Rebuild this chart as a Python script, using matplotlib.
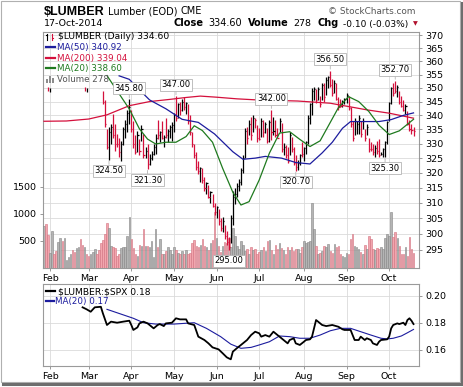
import matplotlib.pyplot as plt
from matplotlib.lines import Line2D
from matplotlib.patches import Rectangle
from matplotlib.ticker import NullLocator

W, H = 464, 387

# x axis: trading-day index, 0 = 29-Jan-2014 ... 182 = 17-Oct-2014
months = ['Feb', 'Mar', 'Apr', 'May', 'Jun', 'Jul', 'Aug', 'Sep', 'Oct']
month_idx = [3, 22, 43, 64, 85, 106, 128, 149, 170]

# daily price bars (start at index 29)
price_start = 29
price_hi = [349, 345.5, 335, 336, 337, 340.5, 337, 333.5, 332, 331,
            336, 338.5, 342, 345.8, 342, 338, 333, 334.5, 331.5, 336.5,
            333.5, 328.8, 330, 326.5, 327.6, 329.9, 333.4, 338.5, 334.6, 338,
            333, 339, 335, 336.5, 337.5, 341, 347, 344.5, 345, 346,
            346.5, 345, 344, 340, 334, 330, 327, 324, 322, 321.5,
            318.5, 317, 316, 314, 313, 310, 309, 308, 305, 305.5,
            303, 301, 299, 306, 314, 315, 316.5, 318, 321.5, 326,
            335.5, 336, 338.4, 339.6, 340.2, 339, 336.6, 335.4, 339, 338.4,
            337.8, 335.4, 338.4, 342, 339.6, 338.4, 335.4, 339, 337.2, 330.2,
            329.6, 329, 334, 332.5, 329, 326, 324.5, 326.5, 330.5, 329,
            331, 340, 344.5, 350, 350.5, 349.5, 350.5, 347, 352, 352,
            354, 354.5, 356.5, 353.5, 353, 352, 346.5, 346, 345.5, 346.2,
            348, 347, 343, 338, 339, 338, 340, 338, 339, 335,
            337, 332, 330.5, 330, 329.5, 331, 331.5, 327, 328.5, 331,
            338, 345, 350.5, 352, 352.7, 351, 349, 347, 345.5, 344,
            341.5, 338.5, 337, 336]
price_lo = [344, 336, 328, 324.5, 330, 332, 327.5, 329, 325.5, 324,
            329.5, 332, 334, 337, 334, 328.5, 326.5, 327, 326, 331,
            325, 325, 321.3, 322.5, 324.5, 326, 326.5, 331.6, 330.5, 331.6,
            329, 332, 330.5, 332, 331, 334, 338, 339, 340, 341.5,
            342, 340.5, 337, 333, 329, 325, 321, 319.5, 317, 316.5,
            314, 313, 311.5, 310, 308.5, 306, 305, 303, 301, 300.5,
            298.5, 296.5, 295, 297, 303, 309.5, 312, 314, 316, 320,
            325, 330, 333, 331.3, 334.2, 335.5, 330.7, 331.3, 332.5, 332.5,
            333.7, 330.2, 330.7, 331.3, 333.1, 332.5, 331.9, 334.2, 327.2, 326.1,
            325, 323.3, 326, 327.2, 322.5, 320.7, 321, 322.5, 325.5, 324,
            326.5, 330, 337, 340, 345.6, 344.5, 345.6, 343, 345.6, 345,
            347.5, 350, 350.5, 347, 348, 345.5, 342, 343, 343, 344,
            344.5, 342, 336, 331, 333, 333.5, 333.5, 332.5, 335, 331,
            333, 327, 327.5, 326, 325.5, 326.5, 325.5, 326, 325.5, 325.3,
            330, 338, 344, 347, 348, 346.5, 344, 343, 341.5, 340.5,
            336.5, 334.5, 333.5, 332.8]
price_cl = [345, 337, 329, 334, 336, 333, 330, 330, 327, 330,
            335, 337, 341, 343, 335, 330, 327, 333, 327.5, 335,
            326, 327.5, 323, 325, 326.5, 329, 332, 333, 334, 332,
            332.5, 333, 334.5, 336, 336.5, 340, 339, 344, 342, 345,
            343, 344.5, 338, 334, 330, 326, 322, 320.5, 321.5, 317.5,
            315, 316.5, 312, 313.5, 309, 307, 308.5, 304, 302, 304,
            299.5, 297.5, 296, 305, 312, 313, 315.5, 317, 321, 325,
            334.5, 332, 337, 333, 339, 338.5, 332, 331.5, 338, 334,
            337, 331, 337.5, 334, 334.5, 333, 332, 338, 328, 329,
            326, 324, 333, 328, 323.5, 322, 323.5, 326, 326.5, 328.5,
            330.5, 339, 344, 349, 349.5, 345.5, 349.5, 344, 351, 346.5,
            353, 354, 351, 348, 352, 346, 343, 343.5, 345, 345.8,
            347.5, 342.5, 337, 332, 338, 337, 339, 333.5, 338, 332,
            336, 328, 328, 327, 328.5, 327.5, 326, 326.5, 328, 330.5,
            337.5, 344.5, 350, 348, 349, 350.5, 345, 343.5, 342, 343.5,
            337, 335, 334.7, 334.6]
price_col = ('rrrkkrrrrk' 'kkkkrrrkrk' 'rkrkkkkrkr' 'krkkkkrkrk' 'rkrrrrrrkr'
             'rkrkrrkrrk' 'rrrkkkkkkk' 'krkrkrrrkr' 'krkrkrrkrk' 'rrkrrrkkrk'
             'kkkkkrkrkr' 'kkrrkrrrkk' 'krrrkkkrkr' 'krrrkrrkkk' 'kkkrrkrrrk'
             'rrrr')

# isolated early prints
early_idx = [2, 3, 20, 21]
early_hi = [350.5, 350, 350.5, 350]
early_lo = [349, 348.5, 349, 348.5]
early_col = 'rkrk'

# moving averages (read at sample days)
ma50_idx = [37, 42, 47, 52, 60, 68, 76, 84, 93, 98, 104, 109, 117, 124, 131, 137,
            142, 147, 151, 158, 165, 171, 177, 182]
ma50_val = [354.5, 353.2, 349.3, 345.6, 342.4, 338.6, 337.5, 333.4, 327.2, 324.6,
            325.0, 325.6, 325.0, 323.5, 323.0, 326.8, 330.5, 335.4, 337.8, 337.8,
            337.8, 338.5, 340.0, 340.9]
ma200_idx = [0, 11, 22, 31, 42, 52, 62, 70, 77, 85, 95, 105, 115, 125, 141, 159, 170, 182]
ma200_val = [337.9, 338.0, 338.7, 340.2, 343.5, 345.0, 345.8, 346.5, 347.0, 346.6,
             346.0, 345.6, 345.4, 345.2, 344.4, 342.0, 340.8, 339.0]
ma20_idx = [31, 42, 47, 51, 55, 60, 65, 70, 74, 78, 83, 88, 93, 97, 101, 106, 111,
            116, 121, 126, 131, 136, 141, 145, 150, 155, 160, 165, 170, 175, 182]
ma20_val = [354.6, 342.3, 335.2, 331.6, 329.9, 330.5, 330.5, 332.5, 336.3, 334.6,
            330.5, 321.5, 313.5, 309.3, 310.4, 317.6, 326.7, 333.7, 334.2, 331.5,
            329.0, 331.0, 337.5, 342.8, 346.8, 345.0, 341.4, 336.5, 333.2, 334.5, 338.6]

# daily volume, index 0..182
volume = [785, 820, 620, 281, 680, 262, 324, 478, 558, 509,
          558, 157, 207, 268, 330, 293, 373, 392, 540, 435,
          392, 268, 219, 250, 293, 355, 268, 330, 466, 527,
          638, 836, 743, 416, 392, 373, 219, 268, 373, 392,
          392, 601, 947, 540, 373, 268, 219, 435, 416, 725,
          404, 416, 392, 509, 207, 725, 392, 540, 250, 268,
          311, 392, 342, 250, 392, 330, 281, 250, 311, 268,
          330, 250, 281, 466, 527, 416, 392, 435, 546, 416,
          392, 342, 466, 527, 1033, 558, 404, 293, 416, 478,
          466, 558, 392, 743, 589, 404, 355, 497, 435, 311,
          355, 262, 392, 342, 355, 262, 293, 342, 392, 311,
          497, 527, 342, 268, 435, 355, 466, 373, 330, 250,
          392, 342, 392, 311, 355, 355, 281, 392, 497, 466,
          478, 497, 1206, 725, 416, 268, 281, 311, 416, 392,
          453, 311, 281, 447, 392, 416, 268, 231, 207, 281,
          250, 540, 638, 416, 392, 355, 293, 250, 435, 355,
          589, 540, 355, 330, 373, 355, 385, 355, 558, 638,
          601, 1033, 576, 663, 558, 404, 268, 268, 392, 219,
          576, 355, 278]
vol_col_early = 'gppggppggpggggppggppgppgggppp'

# annotated highs / lows
label_idx = [32, 42, 51, 65, 91, 112, 124, 141, 168, 173]
label_val = [324.50, 345.80, 321.30, 347.00, 295.00, 342.00, 320.70, 356.50, 325.30, 352.70]
label_side = ['b', 'a', 'b', 'a', 'b', 'a', 'b', 'a', 'b', 'a']

price_ticks = [295, 300, 305, 310, 315, 320, 325, 330, 335, 340, 345, 350, 355, 360, 365, 370]
vol_ticks = [500, 1000, 1500]

# $LUMBER:$SPX ratio panel
ratio_idx = [19, 21, 23, 25, 28, 29, 31, 33, 36, 39, 42, 43, 44, 46, 47, 49, 51, 52,
             54, 56, 57, 59, 60, 63, 65, 67, 70, 71, 74, 76, 79, 81, 83, 86, 88, 90,
             91, 92, 93, 95, 97, 100, 102, 104, 106, 107, 109, 111, 113, 115, 116,
             118, 120, 121, 123, 124, 126, 128, 129, 131, 132, 133, 134, 135, 137,
             139, 142, 145, 147, 148, 151, 152, 153, 155, 156, 158, 159, 161, 162,
             164, 165, 166, 169, 170, 171, 172, 174, 175, 177, 178, 179, 180, 181, 182]
ratio_val = [0.1915, 0.1900, 0.1882, 0.1915, 0.1919, 0.1870, 0.1783, 0.1808, 0.1800,
             0.1808, 0.1815, 0.1783, 0.1746, 0.1765, 0.1795, 0.1808, 0.1795, 0.1783,
             0.1758, 0.1783, 0.1790, 0.1775, 0.1795, 0.1800, 0.1833, 0.1825, 0.1825,
             0.1795, 0.1783, 0.1696, 0.1671, 0.1646, 0.1616, 0.1601, 0.1572, 0.1542,
             0.1534, 0.1527, 0.1584, 0.1610, 0.1634, 0.1671, 0.1708, 0.1733, 0.1721,
             0.1696, 0.1708, 0.1696, 0.1733, 0.1708, 0.1696, 0.1671, 0.1646, 0.1671,
             0.1684, 0.1646, 0.1634, 0.1658, 0.1671, 0.1676, 0.1696, 0.1758, 0.1820,
             0.1808, 0.1783, 0.1775, 0.1783, 0.1770, 0.1751, 0.1746, 0.1746, 0.1708,
             0.1671, 0.1671, 0.1696, 0.1671, 0.1684, 0.1671, 0.1646, 0.1634, 0.1658,
             0.1671, 0.1676, 0.1696, 0.1758, 0.1783, 0.1795, 0.1790, 0.1800, 0.1783,
             0.1820, 0.1833, 0.1815, 0.1790]
rma_idx = [31, 44, 49, 55, 64, 74, 80, 87, 92, 97, 102, 106, 111, 116, 121, 126, 131,
           136, 141, 146, 151, 156, 161, 166, 169, 172, 176, 179, 182]
rma_val = [0.1900, 0.1833, 0.1800, 0.1790, 0.1790, 0.1800, 0.1758, 0.1696, 0.1640,
           0.1609, 0.1616, 0.1634, 0.1658, 0.1701, 0.1696, 0.1684, 0.1684, 0.1708,
           0.1740, 0.1758, 0.1758, 0.1733, 0.1708, 0.1684, 0.1679, 0.1684, 0.1701,
           0.1725, 0.1750]
ratio_ticks = [0.16, 0.18, 0.20]

RED = '#d4103c'
BLACK = '#000000'
NAVY = '#1c1c9e'
GREEN = '#1f7a1f'
GRID = '#dadada'
SPINE = '#9a9a9a'

fig = plt.figure(figsize=(W / 100, H / 100), dpi=100)


def fx(x):
    return x / W


def fy(y):
    return 1 - y / H


def txt(x, y, s, **kw):
    kw.setdefault('va', 'baseline')
    fig.text(fx(x), fy(y), s, **kw)


def seg(x0, y0, x1, y1, **kw):
    fig.add_artist(Line2D([fx(x0), fx(x1)], [fy(y0), fy(y1)], transform=fig.transFigure, **kw))


xlim = (-0.5, 184.7)

# ---- main panel: background grid axis, volume axis, price axis
rect = [fx(43), fy(268), (419 - 43) / W, (268 - 32) / H]
ax_bg = fig.add_axes(rect)
axv = ax_bg.twinx()
axp = ax_bg.twinx()

ax_bg.set_yscale('log')
ax_bg.set_ylim(289.4, 371.3)
ax_bg.set_yticks(price_ticks)
ax_bg.yaxis.set_minor_locator(NullLocator())
ax_bg.set_xlim(*xlim)
ax_bg.set_xticks(month_idx)
ax_bg.set_xticklabels(months)
ax_bg.grid(True, color=GRID, lw=0.6)
ax_bg.tick_params(axis='y', left=False, right=False, labelleft=False, labelright=False)
ax_bg.tick_params(axis='x', length=2.5, width=0.6, color='#888888', labelsize=6.8, pad=2)
for s in ax_bg.spines.values():
    s.set_color(SPINE)
    s.set_linewidth(0.8)

# volume
vcols = list(vol_col_early) + ['p' if c == 'r' else 'g' for c in price_col]
vface = ['#f2a6ae' if c == 'p' else '#b4b4b4' for c in vcols]
vedge = ['#d2707e' if c == 'p' else '#858585' for c in vcols]
axv.bar(range(len(volume)), volume, width=0.75, color=vface, edgecolor=vedge, linewidth=0.4)
axv.set_ylim(0, 4370)
axv.set_xlim(*xlim)
axv.yaxis.tick_left()
axv.set_yticks(vol_ticks)
axv.set_yticklabels([str(v) for v in vol_ticks])
axv.tick_params(axis='y', length=2.5, width=0.6, color='#888888', labelsize=6.8, pad=2)
for s in axv.spines.values():
    s.set_visible(False)

# price bars
axp.set_yscale('log')
axp.set_ylim(289.4, 371.3)
axp.set_xlim(*xlim)
px = list(range(price_start, price_start + len(price_hi)))
pc = [RED if c == 'r' else BLACK for c in price_col]
axp.vlines(px, price_lo, price_hi, colors=pc, lw=0.9, zorder=3)
axp.hlines(price_cl, px, [x + 0.55 for x in px], colors=pc, lw=0.9, zorder=3)
ec = [RED if c == 'r' else BLACK for c in early_col]
axp.vlines(early_idx, early_lo, early_hi, colors=ec, lw=0.9, zorder=3)

axp.plot(ma200_idx, ma200_val, color=RED, lw=0.9, zorder=4)
axp.plot(ma50_idx, ma50_val, color=NAVY, lw=0.9, zorder=4)
axp.plot(ma20_idx, ma20_val, color=GREEN, lw=0.9, zorder=4)

axp.set_yticks(price_ticks)
axp.set_yticklabels([str(p) for p in price_ticks])
axp.yaxis.set_minor_locator(NullLocator())
axp.tick_params(axis='y', length=2.5, width=0.6, color='#888888', labelsize=6.8, pad=2)
for s in axp.spines.values():
    s.set_visible(False)

for i, v, side in zip(label_idx, label_val, label_side):
    dy = 8 if side == 'a' else -8
    axp.annotate(f'{v:.2f}', xy=(i, v), xytext=(0, dy), textcoords='offset points',
                 ha='center', va='center', fontsize=6, zorder=6,
                 bbox=dict(boxstyle='square,pad=0.18', fc='white', ec='#b4b4b4', lw=0.6),
                 arrowprops=dict(arrowstyle='-', color='#b4b4b4', lw=0.6,
                                 shrinkA=0, shrinkB=1))

# ---- lower ratio panel
ax2 = fig.add_axes([fx(43), fy(366), (419 - 43) / W, (366 - 284) / H])
ax2.plot(rma_idx, rma_val, color=NAVY, lw=0.8, zorder=3)
ax2.plot(ratio_idx, ratio_val, color=BLACK, lw=1.3, zorder=4)
ax2.set_xlim(*xlim)
ax2.set_ylim(0.1477, 0.2089)
ax2.set_xticks(month_idx)
ax2.set_xticklabels(months)
ax2.yaxis.tick_right()
ax2.set_yticks(ratio_ticks)
ax2.set_yticklabels([f'{v:.2f}' for v in ratio_ticks])
ax2.grid(True, color=GRID, lw=0.6)
ax2.tick_params(axis='both', length=2.5, width=0.6, color='#888888', labelsize=6.8, pad=2)
for s in ax2.spines.values():
    s.set_color(SPINE)
    s.set_linewidth(0.8)

# ---- header texts
txt(44, 15, r'\$LUMBER', fontsize=9, fontweight='bold', family='Liberation Sans')
txt(108, 14, 'Lumber (EOD)', fontsize=7)
txt(181, 14, 'CME', fontsize=7)
txt(328, 14, '\u00a9 StockCharts.com', fontsize=6.4, color='#555555')
txt(44, 26.5, '17-Oct-2014', fontsize=6.8)
txt(174, 26.5, 'Close', fontsize=7.1, fontweight='bold')
txt(208, 26.5, '334.60', fontsize=7.0)
txt(248, 26.5, 'Volume', fontsize=7.0, fontweight='bold')
txt(293, 26.5, '278', fontsize=6.8)
txt(318, 26.5, 'Chg', fontsize=7.0, fontweight='bold')
txt(343, 26.5, '-0.10 (-0.03%)', fontsize=6.5)
fig.text(fx(415.5), fy(23.5), '\u25bc', fontsize=4.5, color='#b0102c', ha='center', va='center')

# main panel legend
seg(47.5, 33.5, 47.5, 40, color=BLACK, lw=0.8)
seg(46, 35, 47.5, 35, color=BLACK, lw=0.8)
seg(51.5, 34, 51.5, 40, color=RED, lw=0.8)
seg(51.5, 38, 53.5, 38, color=RED, lw=0.8)
txt(58, 39, r'\$LUMBER (Daily) 334.60', fontsize=6.6)
seg(46, 46.5, 55, 46.5, color=NAVY, lw=1.6)
txt(57, 50, 'MA(50) 340.92', fontsize=6.3, color=NAVY)
seg(46, 57.5, 55, 57.5, color=RED, lw=1.6)
txt(57, 61, 'MA(200) 339.04', fontsize=6.3, color=RED)
seg(46, 68, 55, 68, color=GREEN, lw=1.6)
txt(57, 71.5, 'MA(20) 338.60', fontsize=6.3, color=GREEN)
for bx, bh in [(46.5, 4), (49.5, 6), (52.5, 5)]:
    fig.add_artist(Rectangle((fx(bx), fy(82.5)), 2 / W, bh / H, transform=fig.transFigure,
                             fc='#8c8c8c', ec='none'))
txt(57, 82.5, 'Volume 278', fontsize=6.3, color='#555555')

# lower panel legend
seg(46.5, 291, 55, 291, color=BLACK, lw=1.6)
txt(58, 294.5, r'\$LUMBER:\$SPX 0.18', fontsize=6.6)
seg(46.5, 300.5, 54.5, 300.5, color=NAVY, lw=1.6)
txt(55, 304, 'MA(20) 0.17', fontsize=6.3, color=NAVY)

# frame with drop shadow
fig.add_artist(Rectangle((fx(0.5), fy(382)), 459.5 / W, 381.5 / H, transform=fig.transFigure,
                         fill=False, ec='#b0b0b0', lw=0.8))
seg(3, 384, 462, 384, color='#6e6e6e', lw=2.2)
seg(462, 3, 462, 384, color='#6e6e6e', lw=2.2)

fig.savefig('out.png', dpi=100)
